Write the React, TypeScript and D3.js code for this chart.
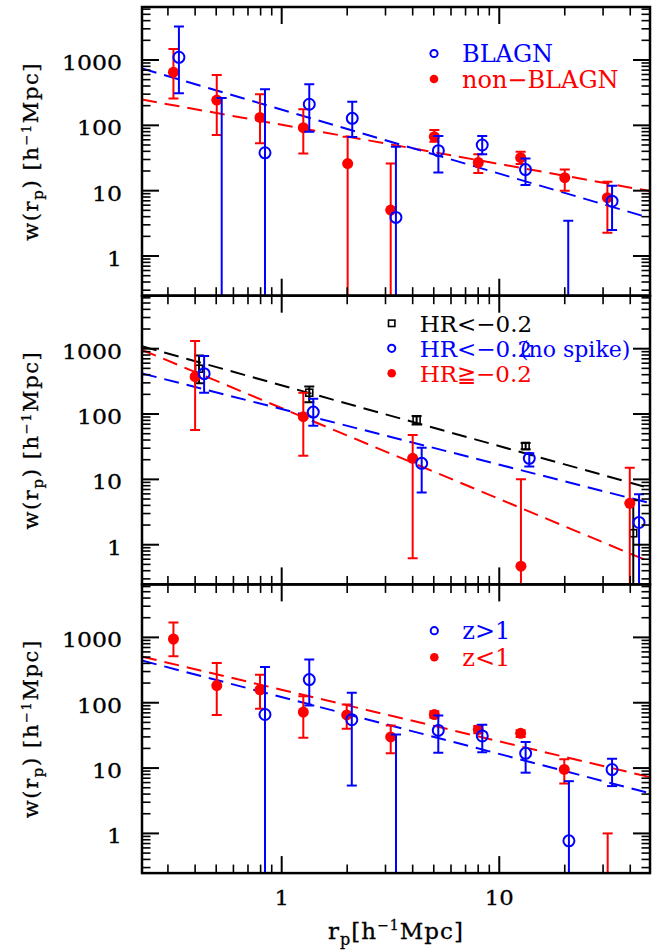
import * as d3 from "d3";

const WIDTH = 652;
const HEIGHT = 952;
const LEFT = 142;
const RIGHT = 650;
const TOP = 7;
const PANEL_H = 288.7;
const X_DOMAIN: [number, number] = [0.228, 49.3];
const Y_DOMAIN: [number, number] = [0.247, 6470];
const FONT = "DejaVu Serif";

// ---- panel 1: BLAGN vs non-BLAGN ----
const blagnR = [0.337, 0.53, 0.838, 1.339, 2.11, 3.35, 5.25, 8.35, 13.2, 20.75, 33.0];
const blagnW = [1100, null, 38, 210, 128, 3.9, 41, 50, 21, null, 6.9];
const blagnHi = [3250, 262, 356, 425, 230, 47, 68.5, 68.5, 31, 3.46, 11.9];
const blagnLo = [310, null, null, 80, 66, null, 19, 36, 12.2, null, 2.5];
const blagnFit = [174, 0.98]; // amplitude at r=1, slope

const nonR = [0.318, 0.503, 0.795, 1.257, 2.01, 3.17, 5.03, 8.01, 12.54, 20.0, 31.4];
const nonW = [650, 244, 132, 92, 26, 5.05, 67, 27, 32, 15.8, 7.8];
const nonHi = [1470, 590, 298, 176, 67, 26, 85, 36, 39.5, 21, 13.7];
const nonLo = [258, 71, 53, 37, null, null, 56, 18.6, 25.6, 10, 2.27];
const nonFit = [102, 0.6];

// ---- panel 2: hardness ratio ----
const softR = [0.417, 1.339, 4.17, 13.22, 41.3];
const softW = [494, 212, 81, 32.4, 1.5];
const softHi = [790, 263, 93, 36, 4.8];
const softLo = [295, 152, 69, 29, null];
const softFit = [275, 0.93];

const softNsR = [0.44, 1.397, 4.4, 13.74, 43.9];
const softNsW = [415, 107, 17.6, 21, 2.19];
const softNsHi = [771, 172, 30.6, 25, 5.9];
const softNsLo = [212, 66, 6.3, 15.7, null];
const softNsFit = [119, 0.85];

const hardR = [0.4, 1.257, 4.0, 12.58, 39.8];
const hardW = [373, 91, 21, 0.47, 4.3];
const hardHi = [1306, 212, 47.7, 10, 15.1];
const hardLo = [57, 23, 0.62, null, null];
const hardFit = [123, 1.39];

// ---- panel 3: redshift ----
const hiZR = [0.838, 1.339, 2.1, 3.353, 5.245, 8.354, 13.22, 20.9, 33.0];
const hiZW = [66, 226, 55, null, 37.7, 31, 16.8, 0.77, 9.5];
const hiZHi = [353, 457, 142, 32.7, 64, 46, 25, 6.3, 13.9];
const hiZLo = [null, 91, 5.4, null, 17.2, 17.5, 8.5, null, 5.3];
const hiZFit = [122, 0.87];

const loZR = [0.318, 0.503, 0.795, 1.257, 1.99, 3.17, 5.03, 8.01, 12.54, 19.9, 31.5];
const loZW = [945, 183, 158, 72, 65, 30, 66, 39, 34, 9.55, null];
const loZHi = [1693, 407, 268, 126, 94, 45, 74, 44, 38, 13.6, 1.0];
const loZLo = [513, 65, 81, 29, 40, 16.8, 59, 34, 30, 5.8, null];
const loZFit = [158, 0.79];

const X_MAJOR = [1, 10];
const Y_MAJOR = [1, 10, 100, 1000];

type Marker = "open" | "filled" | "square";
type Series = {
  r: number[];
  w: (number | null)[];
  hi: number[];
  lo: (number | null)[];
  fit: number[];
  color: string;
  marker: Marker;
};
type LegendItem = { label: string; extra?: string; color: string; marker: Marker };

const mk = (
  r: number[], w: (number | null)[], hi: number[], lo: (number | null)[],
  fit: number[], color: string, marker: Marker,
): Series => ({ r, w, hi, lo, fit, color, marker });

const panels: { series: Series[]; legend: LegendItem[]; legendX: number; legendY: number; legendStep: number; legendSize: number }[] = [
  {
    series: [
      mk(nonR, nonW, nonHi, nonLo, nonFit, "#ff0000", "filled"),
      mk(blagnR, blagnW, blagnHi, blagnLo, blagnFit, "#0000ff", "open"),
    ],
    legend: [
      { label: "BLAGN", color: "#0000ff", marker: "open" },
      { label: "non\u2212BLAGN", color: "#ff0000", marker: "filled" },
    ],
    legendX: 434, legendY: 53.5, legendStep: 25.5, legendSize: 24,
  },
  {
    series: [
      mk(softR, softW, softHi, softLo, softFit, "#000000", "square"),
      mk(hardR, hardW, hardHi, hardLo, hardFit, "#ff0000", "filled"),
      mk(softNsR, softNsW, softNsHi, softNsLo, softNsFit, "#0000ff", "open"),
    ],
    legend: [
      { label: "HR<\u22120.2", color: "#000000", marker: "square" },
      { label: "HR<\u22120.2", extra: "(no spike)", color: "#0000ff", marker: "open" },
      { label: "HR\u2267\u22120.2", color: "#ff0000", marker: "filled" },
    ],
    legendX: 391.7, legendY: 323.3, legendStep: 25, legendSize: 23,
  },
  {
    series: [
      mk(loZR, loZW, loZHi, loZLo, loZFit, "#ff0000", "filled"),
      mk(hiZR, hiZW, hiZHi, hiZLo, hiZFit, "#0000ff", "open"),
    ],
    legend: [
      { label: "z>1", color: "#0000ff", marker: "open" },
      { label: "z<1", color: "#ff0000", marker: "filled" },
    ],
    legendX: 434.3, legendY: 630.7, legendStep: 26.6, legendSize: 24,
  },
];

function minorTicks(domain: [number, number]) {
  const out: number[] = [];
  for (let e = -2; e <= 4; e++) {
    for (let k = 2; k <= 9; k++) {
      const v = k * Math.pow(10, e);
      if (v > domain[0] && v < domain[1]) out.push(v);
    }
  }
  return out;
}

function MarkerShape({ m, cx, cy, color, size }: { m: Marker; cx: number; cy: number; color: string; size: number }) {
  if (m === "filled") return <circle cx={cx} cy={cy} r={size} fill={color} />;
  if (m === "open")
    return <circle cx={cx} cy={cy} r={size} fill="none" stroke={color} strokeWidth={2} />;
  return (
    <rect x={cx - size} y={cy - size} width={size * 2} height={size * 2} fill="none" stroke={color} strokeWidth={1.6} />
  );
}

function Panel({ index }: { index: number }) {
  const p = panels[index];
  const top = TOP + index * PANEL_H;
  const bottom = top + PANEL_H;
  const x = d3.scaleLog().domain(X_DOMAIN).range([LEFT, RIGHT]);
  const y = d3.scaleLog().domain(Y_DOMAIN).range([bottom, top]);
  const line = d3.line<[number, number]>().x((d) => x(d[0])).y((d) => y(d[1]));
  const clipId = `clip-${index}`;
  const xMinor = minorTicks(X_DOMAIN);
  const yMinor = minorTicks(Y_DOMAIN);
  const cap = 5;

  return (
    <g>
      <defs>
        <clipPath id={clipId}>
          <rect x={LEFT} y={top} width={RIGHT - LEFT} height={PANEL_H} />
        </clipPath>
      </defs>

      <g clipPath={`url(#${clipId})`}>
        {p.series.map((s, si) => (
          <path
            key={`fit-${si}`}
            d={line(X_DOMAIN.map((r) => [r, s.fit[0] * Math.pow(r, -s.fit[1])] as [number, number])) ?? ""}
            fill="none"
            stroke={s.color}
            strokeWidth={2}
            strokeDasharray="15 8"
          />
        ))}
        {p.series.map((s, si) => (
          <g key={`s-${si}`}>
            {s.r.map((r, i) => {
              const cx = x(r);
              const yTop = y(s.hi[i]);
              const lo = s.lo[i];
              const yBot = lo === null ? bottom + 10 : y(lo);
              const w = s.w[i];
              return (
                <g key={i}>
                  <line x1={cx} x2={cx} y1={yTop} y2={yBot} stroke={s.color} strokeWidth={2} />
                  <line x1={cx - cap} x2={cx + cap} y1={yTop} y2={yTop} stroke={s.color} strokeWidth={2} />
                  {lo !== null && (
                    <line x1={cx - cap} x2={cx + cap} y1={yBot} y2={yBot} stroke={s.color} strokeWidth={2} />
                  )}
                  {w !== null && (
                    <MarkerShape m={s.marker} cx={cx} cy={y(w)} color={s.color} size={s.marker === "square" ? 3.5 : 5.5} />
                  )}
                </g>
              );
            })}
          </g>
        ))}
      </g>

      {/* ticks */}
      <g stroke="#000">
        {X_MAJOR.map((v) => (
          <g key={`xm-${v}`} strokeWidth={2}>
            <line x1={x(v)} x2={x(v)} y1={bottom} y2={bottom - 17} />
            <line x1={x(v)} x2={x(v)} y1={top} y2={top + 17} />
          </g>
        ))}
        {xMinor.map((v) => (
          <g key={`xn-${v}`} strokeWidth={1.6}>
            <line x1={x(v)} x2={x(v)} y1={bottom} y2={bottom - 8.5} />
            <line x1={x(v)} x2={x(v)} y1={top} y2={top + 8.5} />
          </g>
        ))}
        {Y_MAJOR.map((v) => (
          <g key={`ym-${v}`} strokeWidth={2}>
            <line x1={LEFT} x2={LEFT + 17} y1={y(v)} y2={y(v)} />
            <line x1={RIGHT} x2={RIGHT - 17} y1={y(v)} y2={y(v)} />
          </g>
        ))}
        {yMinor.map((v) => (
          <g key={`yn-${v}`} strokeWidth={1.6}>
            <line x1={LEFT} x2={LEFT + 8.5} y1={y(v)} y2={y(v)} />
            <line x1={RIGHT} x2={RIGHT - 8.5} y1={y(v)} y2={y(v)} />
          </g>
        ))}
      </g>
      <rect x={LEFT} y={top} width={RIGHT - LEFT} height={PANEL_H} fill="none" stroke="#000" strokeWidth={2.5} />

      {/* y tick labels */}
      {Y_MAJOR.map((v) => {
        const label = d3.format("d")(v);
        return (
          <text
            key={`yl-${v}`}
            x={122}
            y={y(v) + 10}
            textAnchor="end"
            fontFamily={FONT}
            fontSize={20.5}
            stroke="#000"
            strokeWidth={0.3}
            textLength={label.length * 15}
            lengthAdjust="spacingAndGlyphs"
          >
            {label}
          </text>
        );
      })}

      {/* x tick labels only on bottom panel */}
      {index === panels.length - 1 &&
        X_MAJOR.map((v) => {
          const label = d3.format("d")(v);
          return (
            <text
              key={`xl-${v}`}
              x={x(v)}
              y={bottom + 32}
              textAnchor="middle"
              fontFamily={FONT}
              fontSize={21}
              stroke="#000"
              strokeWidth={0.3}
              textLength={label.length * 14.5}
              lengthAdjust="spacingAndGlyphs"
            >
              {label}
            </text>
          );
        })}

      {/* y axis title */}
      <text
        transform={`translate(38,${top + PANEL_H / 2}) rotate(-90)`}
        textAnchor="middle"
        fontFamily={FONT}
        fontSize={21}
        letterSpacing={1.6}
        stroke="#000"
        strokeWidth={0.3}
      >
        w(r<tspan dy={5} fontSize={15}>p</tspan>
        <tspan dy={-5}>)  [h</tspan>
        <tspan dy={-7} fontSize={13}>{"\u22121"}</tspan>
        <tspan dy={7}>Mpc]</tspan>
      </text>

      {/* legend */}
      {p.legend.map((item, i) => {
        const cy = p.legendY + i * p.legendStep;
        return (
          <g key={`lg-${i}`}>
            <MarkerShape
              m={item.marker}
              cx={p.legendX}
              cy={cy}
              color={item.color}
              size={item.marker === "filled" ? 4.3 : item.marker === "open" ? 3.6 : 3.2}
            />
            <text
              x={p.legendX + 28}
              y={cy + 8.7}
              fontFamily={FONT}
              fontSize={p.legendSize}
              fill={item.color}
            >
              {item.label}
            </text>
            {item.extra && (
              <text x={520} y={cy + 8.7} fontFamily={FONT} fontSize={p.legendSize - 1} fill={item.color}>
                {item.extra}
              </text>
            )}
          </g>
        );
      })}
    </g>
  );
}

export default function App() {
  return (
    <svg
      width={WIDTH}
      height={HEIGHT}
      style={{ position: "absolute", left: 0, top: 0, background: "#fff" }}
    >
      <rect width={WIDTH} height={HEIGHT} fill="#fff" />
      {panels.map((_, i) => (
        <Panel key={i} index={i} />
      ))}
      <text
        x={(LEFT + RIGHT) / 2}
        y={939}
        textAnchor="middle"
        fontFamily={FONT}
        fontSize={23}
        letterSpacing={1}
        stroke="#000"
        strokeWidth={0.3}
      >
        r<tspan dy={6} fontSize={16}>p</tspan>
        <tspan dy={-6}>[h</tspan>
        <tspan dy={-9} fontSize={14}>{"\u22121"}</tspan>
        <tspan dy={9}>Mpc]</tspan>
      </text>
    </svg>
  );
}
